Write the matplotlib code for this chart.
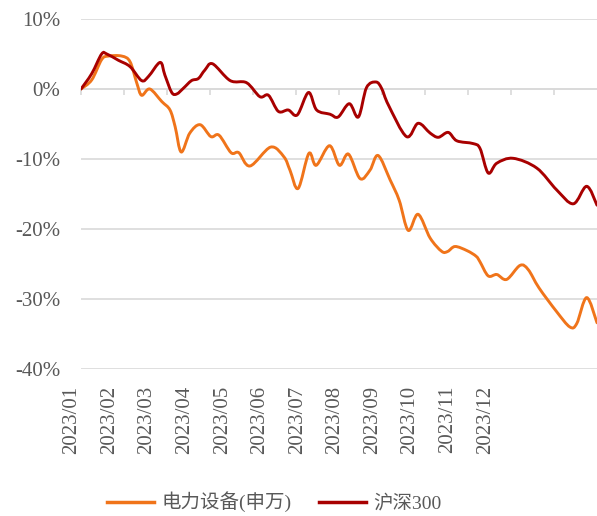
import numpy as np
import matplotlib
matplotlib.use("Agg")
import matplotlib.pyplot as plt
from matplotlib.path import Path
from matplotlib.patches import PathPatch
from matplotlib.lines import Line2D

plt.rcParams['font.family'] = ['Liberation Serif', 'Noto Sans CJK SC']

# x in months since 2023-01-01 (0 = start of Jan, 12 = end of Dec), y in %
dl_x = [0, 0.25, 0.48, 0.63, 0.95, 1.14, 1.3, 1.41, 1.6, 1.88, 2.07, 2.19, 2.33,
        2.53, 2.77, 3.02, 3.21, 3.49, 3.67, 3.93, 4.41, 4.72, 4.86, 5.05, 5.3,
        5.47, 5.78, 6.01, 6.22, 6.49, 6.72, 6.91, 7.19, 7.4, 7.61, 7.84, 8.12,
        8.39, 8.53, 8.7, 8.98, 9.19, 9.28, 9.47, 9.67, 9.9, 10.21, 10.4, 10.65,
        11.06, 11.37, 11.53, 11.76, 12.0]
dl_y = [0, 1.3, 4.2, 4.7, 4.7, 3.9, 0.8, -0.9, 0.0, -1.8, -3.0, -5.4, -9.0,
        -6.3, -5.1, -6.8, -6.6, -9.1, -9.1, -11.0, -8.3, -9.7, -11.6, -14.2, -9.2,
        -10.9, -8.1, -10.9, -9.3, -12.8, -11.6, -9.5, -13.0, -15.9, -20.2, -17.9, -21.3,
        -23.2, -23.2, -22.5, -23.1, -23.9, -24.7, -26.7, -26.5, -27.2, -25.2, -25.8, -28.4,
        -31.8, -34.0, -33.5, -29.8, -33.4]

hs_x = [0, 0.25, 0.48, 0.6, 0.87, 1.14, 1.41, 1.57, 1.84, 1.95, 2.11, 2.23, 2.38,
        2.57, 2.73, 2.88, 3.06, 3.47, 3.85, 4.16, 4.36, 4.59, 4.82, 5.03, 5.29,
        5.48, 5.79, 5.98, 6.24, 6.45, 6.64, 6.86, 6.99, 7.15, 7.57, 7.84, 8.12,
        8.31, 8.54, 8.74, 9.12, 9.28, 9.47, 9.67, 10.05, 10.6, 11.06, 11.45, 11.76, 12.0]
hs_y = [0, 2.2, 5.0, 5.0, 4.1, 3.2, 1.2, 1.8, 3.8, 2.0, -0.5, -0.7, 0.1,
        1.2, 1.5, 2.7, 3.6, 1.2, 0.9, -1.1, -0.9, -3.2, -3.0, -3.7, -0.5,
        -3.0, -3.6, -4.0, -2.1, -4.0, 0.2, 1.0, 0.1, -2.3, -6.8, -4.9, -6.3,
        -6.9, -6.2, -7.4, -7.8, -8.5, -12.0, -10.6, -9.9, -11.3, -14.4, -16.4, -13.9, -16.6]

month_labels = ["2023/%02d" % m for m in range(1, 13)]
label_pos = np.linspace(-0.21, 9.4, 12)
y_ticks = [10, 0, -10, -20, -30, -40]

grey = "#595959"
grid_c = "#D9D9D9"
c_dl = "#F0741A"
c_hs = "#A80000"


def smooth_path(xs, ys):
    # smoothed line like Excel: Catmull-Rom segments drawn as cubic Beziers
    p = np.column_stack([xs, ys]).astype(float)
    p = np.vstack([p[0], p, p[-1]])
    verts = [p[1]]
    codes = [Path.MOVETO]
    for i in range(1, len(p) - 2):
        c1 = p[i] + (p[i + 1] - p[i - 1]) / 6
        c2 = p[i + 1] - (p[i + 2] - p[i]) / 6
        verts += [c1, c2, p[i + 1]]
        codes += [Path.CURVE4] * 3
    return Path(verts, codes)


fig = plt.figure(figsize=(5.97, 5.16), dpi=100)
ax = fig.add_axes([81 / 597, 1 - 369 / 516, 1 - 81 / 597, (369 - 19) / 516])

for t in y_ticks:
    ax.axhline(t, color=grid_c, lw=1.2, zorder=1)

ax.add_patch(PathPatch(smooth_path(dl_x, dl_y), fill=False, edgecolor=c_dl,
                       lw=2.1, joinstyle="round", capstyle="round", zorder=3))
ax.add_patch(PathPatch(smooth_path(hs_x, hs_y), fill=False, edgecolor=c_hs,
                       lw=2.1, joinstyle="round", capstyle="round", zorder=4))

ax.set_xlim(0, 12)
ax.set_ylim(-40, 10)
ax.set_yticks(y_ticks)
ax.set_yticklabels(["%d%%" % t for t in y_ticks], fontsize=15, color=grey)
ax.tick_params(axis="y", length=0, pad=15)

for s in ["top", "right", "left"]:
    ax.spines[s].set_visible(False)
ax.spines["bottom"].set_position(("data", 0))
ax.spines["bottom"].set_color(grid_c)
ax.spines["bottom"].set_linewidth(1.2)
ax.set_xticks(range(12))
ax.set_xticklabels([])
ax.tick_params(axis="x", direction="out", length=4, width=1.2, color=grid_c)

# month labels below the plot area
for pos, lbl in zip(label_pos, month_labels):
    ax.annotate(lbl, xy=(pos, 0), xycoords=("data", "axes fraction"),
                xytext=(0, -12), textcoords="offset points", rotation=90,
                ha="center", va="top", fontsize=15, color=grey,
                annotation_clip=False)

handles = [Line2D([], [], color=c_dl, lw=2.5), Line2D([], [], color=c_hs, lw=2.5)]
fig.legend(handles, ["电力设备(申万)", "沪深300"], loc="center",
           bbox_to_anchor=(0.46, 1 - 502 / 516), ncol=2,
           frameon=False, fontsize=14, handlelength=2.4, handletextpad=0.4,
           columnspacing=1.4, labelcolor=grey)

fig.savefig("out.png", dpi=100)
